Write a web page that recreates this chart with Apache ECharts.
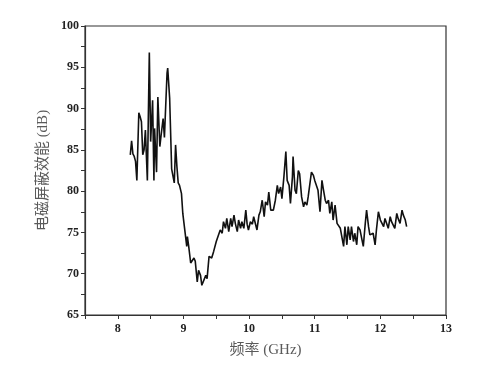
<!DOCTYPE html>
<html>
<head>
<meta charset="utf-8">
<script src="https://cdn.jsdelivr.net/npm/echarts@6/dist/echarts.min.js"></script>
<style>
  html, body { margin: 0; padding: 0; background: #fff; }
  #chart { width: 485px; height: 373px; }
</style>
</head>
<body>
<div id="chart"></div>
<script>
// ── Data (frequency in GHz, SE in dB) ────────────────────────────────────
const freqGHz = [
  8.19, 8.21, 8.23, 8.25, 8.27, 8.29, 8.32, 8.34, 8.36, 8.38,
  8.40, 8.42, 8.45, 8.48, 8.50, 8.53, 8.55, 8.56, 8.59, 8.61,
  8.64, 8.66, 8.69, 8.71, 8.75, 8.76, 8.79, 8.82, 8.84, 8.86,
  8.88, 8.90, 8.92, 8.94, 8.97, 8.99, 9.02, 9.05, 9.06, 9.08,
  9.11, 9.13, 9.16, 9.18, 9.21, 9.23, 9.26, 9.28, 9.31, 9.34,
  9.36, 9.39, 9.43, 9.46, 9.50, 9.53, 9.56, 9.59, 9.61, 9.64,
  9.66, 9.69, 9.72, 9.74, 9.77, 9.79, 9.82, 9.84, 9.87, 9.89,
  9.92, 9.95, 9.97, 9.99, 10.02, 10.05, 10.07, 10.10, 10.12, 10.15,
  10.17, 10.20, 10.23, 10.25, 10.28, 10.30, 10.33, 10.37, 10.40, 10.43,
  10.45, 10.48, 10.50, 10.53, 10.56, 10.58, 10.61, 10.63, 10.66, 10.67,
  10.70, 10.72, 10.75, 10.77, 10.80, 10.83, 10.85, 10.88, 10.90, 10.93,
  10.95, 10.98, 11.00, 11.03, 11.05, 11.08, 11.11, 11.13, 11.16, 11.18,
  11.21, 11.23, 11.26, 11.28, 11.31, 11.34, 11.36, 11.39, 11.41, 11.44,
  11.46, 11.49, 11.51, 11.54, 11.56, 11.59, 11.61, 11.64, 11.66, 11.69,
  11.72, 11.74, 11.77, 11.79, 11.82, 11.84, 11.87, 11.89, 11.92, 11.94,
  11.97, 12.00, 12.02, 12.05, 12.07, 12.10, 12.12, 12.15, 12.17, 12.20,
  12.22, 12.25, 12.27, 12.30, 12.33, 12.35, 12.38, 12.40
];
const seDb = [
  84.4, 86.1, 84.5, 84.2, 83.6, 81.3, 89.5, 89.0, 88.4, 84.4,
  85.0, 87.4, 81.3, 96.8, 86.0, 91.0, 81.3, 87.6, 82.3, 91.4,
  85.4, 86.8, 88.8, 86.5, 94.3, 94.9, 91.2, 82.7, 82.5, 81.0,
  85.6, 83.0, 81.0, 80.7, 79.7, 77.3, 75.3, 73.3, 74.5, 73.3,
  71.3, 71.1, 71.9, 71.5, 69.0, 70.4, 69.8, 68.6, 68.8, 69.8,
  69.4, 72.1, 71.9, 72.7, 73.9, 74.1, 75.3, 74.9, 76.3, 75.5,
  76.7, 75.1, 76.7, 75.7, 77.1, 76.1, 75.1, 76.5, 75.5, 76.3,
  75.5, 77.7, 76.0, 75.3, 76.3, 76.0, 76.9, 76.7, 75.3, 77.1,
  77.5, 78.9, 76.9, 78.7, 78.3, 79.9, 77.7, 77.7, 78.9, 80.7,
  79.7, 80.5, 79.1, 81.7, 84.8, 81.3, 80.7, 78.5, 81.7, 84.2,
  80.1, 79.7, 82.5, 82.1, 79.3, 78.1, 78.7, 78.3, 79.3, 79.3,
  82.3, 81.9, 81.3, 81.5, 80.1, 77.5, 81.3, 80.3, 78.9, 78.5,
  78.9, 77.3, 78.7, 76.5, 78.3, 76.1, 76.1, 75.5, 75.3, 73.3,
  75.7, 73.5, 75.7, 74.1, 75.7, 73.9, 74.9, 73.5, 75.7, 75.3,
  74.1, 73.3, 76.1, 77.7, 75.7, 74.7, 74.5, 74.9, 73.5, 75.3,
  77.5, 76.5, 76.7, 75.7, 76.7, 76.5, 75.5, 76.9, 76.3, 76.1,
  75.5, 77.3, 76.7, 76.1, 77.7, 77.1, 76.5, 75.7
];
const xTicks = [8, 9, 10, 11, 12, 13];
const yTicks = [65, 70, 75, 80, 85, 90, 95, 100];

const xName = '频率 (GHz)';
const yName = '电磁屏蔽效能 (dB)';

// ── Shared styles ────────────────────────────────────────────────────────
const AXIS_COLOR = '#333';
const labelStyle = {
  color: '#222',
  fontFamily: 'Liberation Serif, "DejaVu Serif", serif',
  fontWeight: 'bold',
  fontSize: 12,
};
// latin glyphs in serif, CJK falls back to Noto Sans CJK
const nameStyle = {
  color: '#5a5a5a',
  fontFamily: '"Liberation Serif", "Noto Sans CJK SC", serif',
  fontSize: 15,
};

const chart = echarts.init(document.getElementById('chart'), null, { renderer: 'canvas' });

chart.setOption({
  backgroundColor: '#fff',
  animation: false,
  grid: {
    left: 85, right: 39, top: 26, bottom: 58,
    show: true, borderColor: AXIS_COLOR, borderWidth: 1.2,
  },
  xAxis: {
    type: 'value',
    min: 7.5, max: 13, interval: 0.5,
    name: xName, nameLocation: 'middle', nameGap: 28,
    nameTextStyle: nameStyle,
    axisLine: { show: true, onZero: false, lineStyle: { color: AXIS_COLOR, width: 1.2 } },
    axisTick: { show: true, length: 4, lineStyle: { color: AXIS_COLOR } },
    axisLabel: Object.assign({
      margin: 8,
      formatter: (v) => (xTicks.includes(v) ? String(v) : ''),
    }, labelStyle),
    splitLine: { show: false },
  },
  yAxis: {
    type: 'value',
    min: 65, max: 100, interval: 2.5,
    name: yName, nameLocation: 'middle', nameGap: 33, nameRotate: 90,
    nameTextStyle: nameStyle,
    axisLine: { show: true, onZero: false, lineStyle: { color: AXIS_COLOR, width: 1.2 } },
    axisTick: { show: true, length: 4, lineStyle: { color: AXIS_COLOR } },
    axisLabel: Object.assign({
      margin: 6,
      formatter: (v) => (yTicks.includes(v) ? String(v) : ''),
    }, labelStyle),
    splitLine: { show: false },
  },
  series: [{
    type: 'line',
    data: freqGHz.map((f, i) => [f, seDb[i]]),
    showSymbol: false,
    lineStyle: { color: '#111', width: 1.6 },
  }],
});
</script>
</body>
</html>
